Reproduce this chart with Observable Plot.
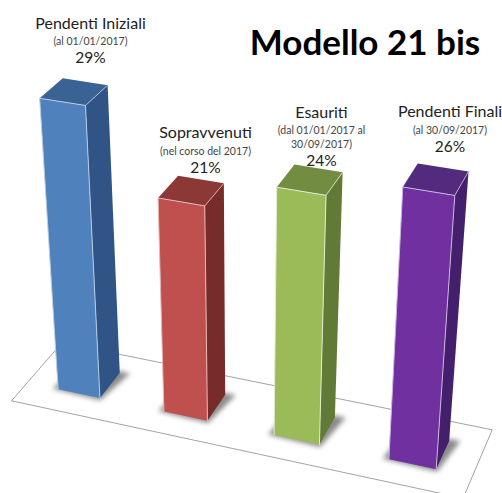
<!DOCTYPE html>
<html>
<head>
<meta charset="utf-8">
<script src="https://cdn.jsdelivr.net/npm/d3@7"></script>
<script src="https://cdn.jsdelivr.net/npm/@observablehq/plot@0.6"></script>
<style>
  html, body { margin: 0; padding: 0; background: #fff; }
  svg { display: block; }
</style>
</head>
<body>
<div id="chart"></div>
<script>
// ---- data ----
const categories = ["Pendenti Iniziali", "Sopravvenuti", "Esauriti", "Pendenti Finali"];
const periods = ["(al 01/01/2017)", "(nel corso del 2017)", "(dal 01/01/2017 al\n30/09/2017)", "(al 30/09/2017)"];
const percentages = [29, 21, 24, 26];
const chartTitle = "Modello 21 bis";

// ---- styles ----
const frontColors = ["#4f81bd", "#c0504d", "#9bbb59", "#7030a0"];
const topColors = ["#3a6294", "#8c3836", "#728d42", "#522a7e"];
const sideColors = ["#2f5485", "#772c2a", "#617a36", "#431f6c"];
const edgeColors = ["#b9cde5", "#e6b9b8", "#e3ecd0", "#ccb5e0"];

// ---- layout: the scene is a floor plate seen in perspective ----
const W = 502, H = 493;
const plate = {L: [11, 400.3], F: [462.6, 497.7], R: [491.7, 429.3], B: [61.5, 342.2]};
const rowStart = 0.075, rowStep = 0.25, barWidth = 0.1, depthFront = 0.3, depthBack = 0.72;
const vanish = [243, 3307];
const labelX = [90, 205, 321, 449.5];
const labelY = [23, 132.5, 112, 111.5];
const periodY = [40, 150, 136, 129];
const pctY = [58, 168, 161, 146.5];

// unit-square to plate homography
function makeFloor({L, F, R, B}) {
  const dx1 = F[0] - R[0], dx2 = B[0] - R[0], sx = L[0] - F[0] + R[0] - B[0];
  const dy1 = F[1] - R[1], dy2 = B[1] - R[1], sy = L[1] - F[1] + R[1] - B[1];
  const det = dx1 * dy2 - dx2 * dy1;
  const g = (sx * dy2 - dx2 * sy) / det, h = (dx1 * sy - sx * dy1) / det;
  return (u, v) => {
    const w = g * u + h * v + 1;
    return [
      ((F[0] - L[0] + g * F[0]) * u + (B[0] - L[0] + h * B[0]) * v + L[0]) / w,
      ((F[1] - L[1] + g * F[1]) * u + (B[1] - L[1] + h * B[1]) * v + L[1]) / w
    ];
  };
}
const floor = makeFloor(plate);

// a point at floor position (u,v) raised by a value, along the vertical vanishing line
function project(u, v, value) {
  const p = floor(u, v);
  const k = 1 + value * (0.00344 + 3.4e-6 * (p[1] - 389.3));
  return {x: vanish[0] + (p[0] - vanish[0]) * k, y: vanish[1] + (p[1] - vanish[1]) * k};
}

const marks = [];

// floor plate
const plateCorners = [[0, 0], [1, 0], [1, 1], [0, 1], [0, 0]].map(([u, v]) => project(u, v, 0));
marks.push(Plot.line(plateCorners, {x: "x", y: "y", stroke: "#a3a3a3", strokeWidth: 1}));

// bars
percentages.forEach((value, i) => {
  const u0 = rowStart + i * rowStep, u1 = u0 + barWidth;
  const v0 = depthFront, v1 = depthBack;
  const bFL = project(u0, v0, 0), bFR = project(u1, v0, 0), bBR = project(u1, v1, 0);
  const tFL = project(u0, v0, value), tFR = project(u1, v0, value);
  const tBR = project(u1, v1, value), tBL = project(u0, v1, value);
  const shadow = [
    project(u0 - 0.012, v0 - 0.01, 0), project(u1 + 0.004, v0 - 0.03, 0),
    project(u1 + 0.022, v1 + 0.03, 0), project(u0, v1, 0)
  ];
  const face = (pts, fill) => Plot.line(pts, {x: "x", y: "y", fill, stroke: "none"});
  const edge = (pts, w = 1) => Plot.line(pts, {x: "x", y: "y", stroke: edgeColors[i], strokeWidth: w});
  marks.push(
    Plot.line(shadow, {x: "x", y: "y", fill: "#8a8a8a", stroke: "none", imageFilter: "blur(2.5px)"}),
    face([tFL, tFR, tBR, tBL], topColors[i]),
    face([tFR, tBR, bBR, bFR], sideColors[i]),
    face([tFL, tFR, bFR, bFL], frontColors[i]),
    edge([bFL, tFL, tFR, bFR]),
    edge([tFR, tBR], 0.8)
  );
});

// labels
const idx = d3.range(categories.length);
const textFont = "Lato, sans-serif";
marks.push(
  Plot.text(idx, {x: i => labelX[i], y: i => labelY[i], text: i => categories[i], fontSize: 16, fill: "#222", fontFamily: textFont, textAnchor: "middle", lineAnchor: "middle"}),
  Plot.text(idx, {x: i => labelX[i], y: i => periodY[i], text: i => periods[i], fontSize: 10.5, lineHeight: 1.35, fill: "#444", fontFamily: textFont, textAnchor: "middle", lineAnchor: "middle"}),
  Plot.text(idx, {x: i => labelX[i], y: i => pctY[i], text: i => percentages[i] + "%", fontSize: 15.5, fill: "#222", fontFamily: textFont, textAnchor: "middle", lineAnchor: "middle"}),
  Plot.text([chartTitle], {x: () => 364.5, y: () => 43, text: d => d, fontSize: 35, fontWeight: "bold", fill: "#000", fontFamily: textFont, textAnchor: "middle", lineAnchor: "middle"})
);

const chart = Plot.plot({
  width: W, height: H,
  marginTop: 0, marginRight: 0, marginBottom: 0, marginLeft: 0,
  x: {type: "linear", domain: [0, W], range: [0, W], axis: null},
  y: {type: "linear", domain: [0, H], range: [0, H], axis: null},
  style: {background: "#fff", overflow: "hidden"},
  marks
});
document.getElementById("chart").appendChild(chart);
</script>
</body>
</html>
